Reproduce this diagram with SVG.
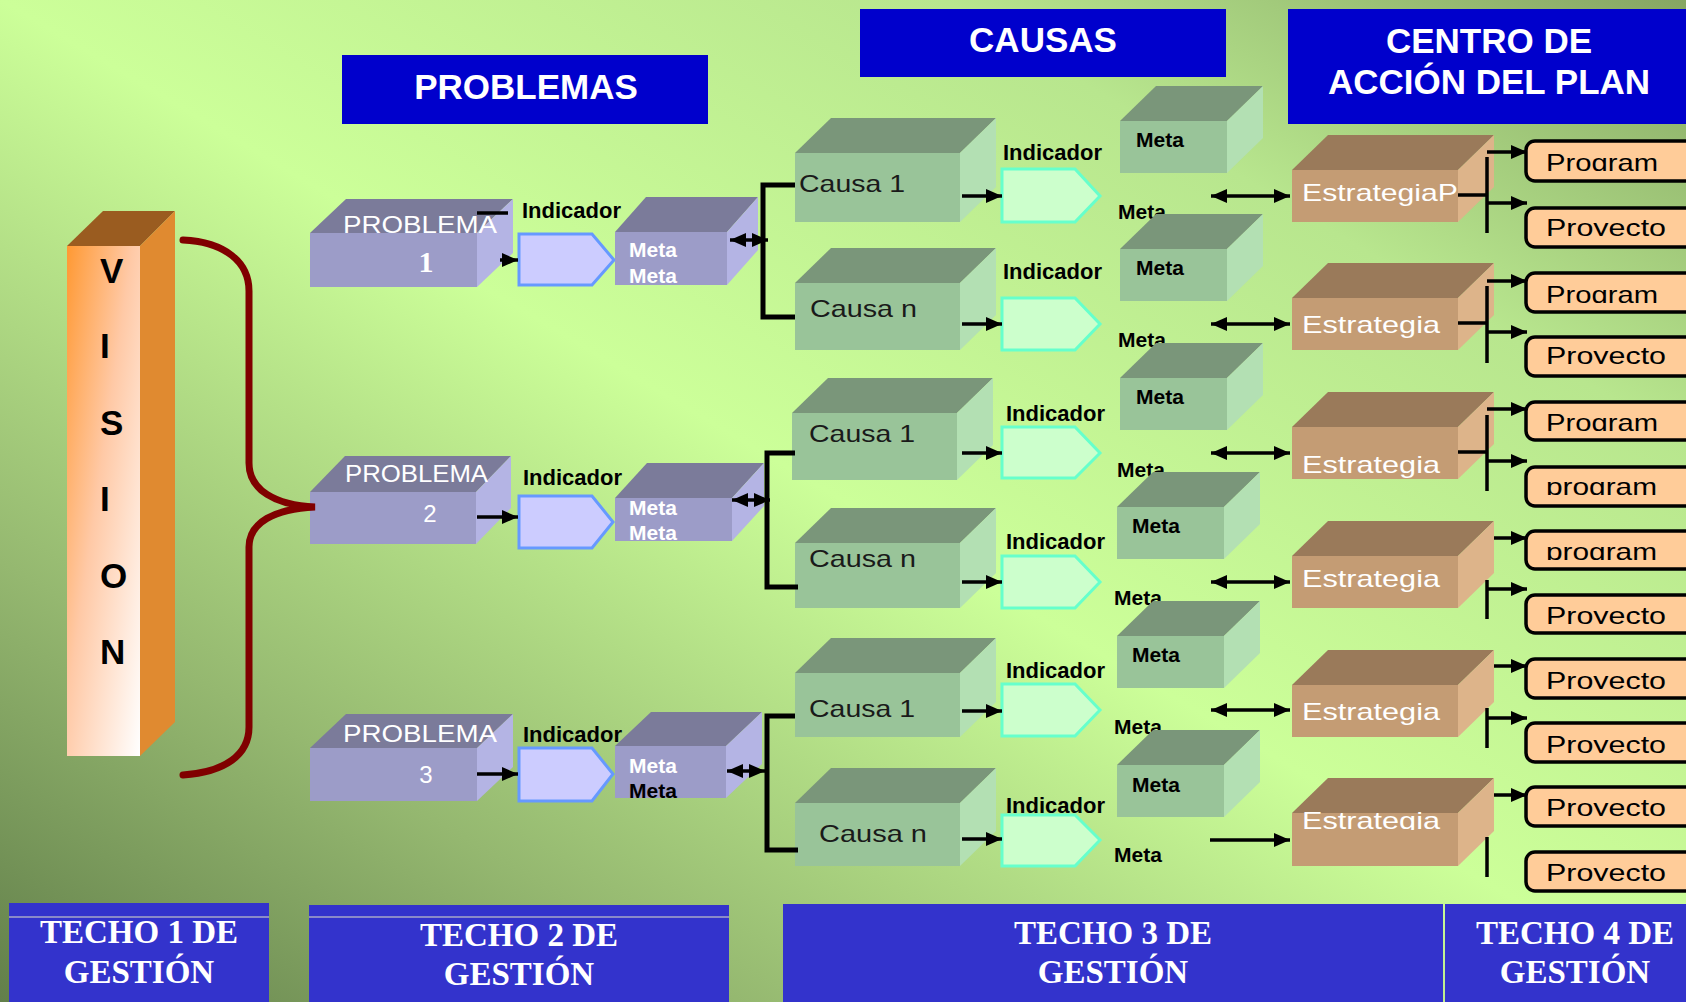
<svg xmlns="http://www.w3.org/2000/svg" width="1686" height="1002" viewBox="0 0 1686 1002">
<defs>
<linearGradient id="bg" x1="0" y1="1" x2="1" y2="0">
<stop offset="0" stop-color="#627f4a"/>
<stop offset="0.22" stop-color="#95b870"/>
<stop offset="0.5" stop-color="#ccff99"/>
<stop offset="0.78" stop-color="#b8e68e"/>
<stop offset="1" stop-color="#86a663"/>
</linearGradient>
<linearGradient id="vis" x1="0" y1="0" x2="1" y2="1">
<stop offset="0" stop-color="#ff9933"/>
<stop offset="0.45" stop-color="#ffc9a6"/>
<stop offset="1" stop-color="#ffffff"/>
</linearGradient>
<marker id="ah" markerWidth="16" markerHeight="14" refX="16" refY="7" orient="auto-start-reverse" markerUnits="userSpaceOnUse">
<path d="M0,0 L16,7 L0,14 z" fill="#000"/>
</marker>
<clipPath id="c1" clipPathUnits="userSpaceOnUse"><rect x="1526" y="141" width="200" height="30"/></clipPath>
<clipPath id="c2" clipPathUnits="userSpaceOnUse"><rect x="1526" y="208" width="200" height="28"/></clipPath>
<clipPath id="c3" clipPathUnits="userSpaceOnUse"><rect x="1526" y="273" width="200" height="30"/></clipPath>
<clipPath id="c4" clipPathUnits="userSpaceOnUse"><rect x="1526" y="337" width="200" height="27"/></clipPath>
<clipPath id="c5" clipPathUnits="userSpaceOnUse"><rect x="1526" y="402" width="200" height="29"/></clipPath>
<clipPath id="c6" clipPathUnits="userSpaceOnUse"><rect x="1526" y="467" width="200" height="28"/></clipPath>
<clipPath id="c7" clipPathUnits="userSpaceOnUse"><rect x="1526" y="531" width="200" height="29"/></clipPath>
<clipPath id="c8" clipPathUnits="userSpaceOnUse"><rect x="1526" y="595" width="200" height="29"/></clipPath>
<clipPath id="c9" clipPathUnits="userSpaceOnUse"><rect x="1526" y="659" width="200" height="30"/></clipPath>
<clipPath id="c10" clipPathUnits="userSpaceOnUse"><rect x="1526" y="723" width="200" height="30"/></clipPath>
<clipPath id="c11" clipPathUnits="userSpaceOnUse"><rect x="1526" y="787" width="200" height="29"/></clipPath>
<clipPath id="c12" clipPathUnits="userSpaceOnUse"><rect x="1526" y="852" width="200" height="29"/></clipPath>
<clipPath id="cs6" clipPathUnits="userSpaceOnUse"><rect x="1292" y="780" width="170" height="50"/></clipPath>
</defs>
<style>
.pf{fill:#9c9cc8}.pt{fill:#7b7b9a}.ps{fill:#b4b4e4}
.gf{fill:#99c499}.gt{fill:#7a967a}.gs{fill:#b3e0b3}
.tf{fill:#c49c74}.tt{fill:#9a7a5a}.ts{fill:#ddb48a}
.pind{fill:#ccccff;stroke:#6699ff;stroke-width:3}
.gind{fill:#ccffcc;stroke:#66ffcc;stroke-width:3}
.prog{fill:#ffcc99;stroke:#000;stroke-width:3.5}
.hdr{fill:#0000cc}.ftr{fill:#3333cc}
text{font-family:"Liberation Sans",Arial,sans-serif}
.ht{fill:#fff;font-weight:bold;font-size:35px;text-anchor:middle}
.ft{fill:#fff;font-weight:bold;font-size:33px;text-anchor:middle;font-family:"Liberation Serif","Times New Roman",serif}
.vt{fill:#000;font-weight:bold;font-size:35px}
.pl{fill:#fff;font-size:24px}
.bl{fill:#000;font-weight:bold;font-size:22px}
.mt{font-weight:bold;font-size:21px}
.ct{fill:#1a1a1a;font-size:24px}
.st{fill:#fff;font-size:24px}
.pt2{fill:#000;font-size:24px}
.ln{fill:none;stroke:#000;stroke-width:3.5}
.br{fill:none;stroke:#000;stroke-width:5}
.ar{fill:none;stroke:#000;stroke-width:3.5;marker-end:url(#ah)}
.da{fill:none;stroke:#000;stroke-width:3.5;marker-start:url(#ah);marker-end:url(#ah)}
</style>
<rect x="0" y="0" width="1686" height="1002" fill="url(#bg)"/>

<!-- headers -->
<g id="hdr-problemas"><rect class="hdr" x="342" y="55" width="366" height="69"/><text class="ht" x="526" y="99">PROBLEMAS</text></g>
<g id="hdr-causas"><rect class="hdr" x="860" y="9" width="366" height="68"/><text class="ht" x="1043" y="52">CAUSAS</text></g>
<g id="hdr-centro"><rect class="hdr" x="1288" y="9" width="398" height="115"/><text class="ht" x="1489" y="53">CENTRO DE</text><text class="ht" x="1489" y="94">ACCIÓN DEL PLAN</text></g>

<!-- vision -->
<g id="vision">
<polygon points="67,246 103,211 175,211 140,246" fill="#9a5c20"/>
<polygon points="140,246 175,211 175,722 140,756" fill="#e08a30"/>
<rect x="67" y="246" width="73" height="510" fill="url(#vis)"/>
<text class="vt" x="100" y="283">V</text>
<text class="vt" x="100" y="358">I</text>
<text class="vt" x="100" y="435">S</text>
<text class="vt" x="100" y="511">I</text>
<text class="vt" x="100" y="588">O</text>
<text class="vt" x="100" y="664">N</text>
</g>

<!-- problems -->
<g id="problema1">
<polygon class="pt" points="310,233 346,199 513,199 477,233"/>
<polygon class="ps" points="477,233 513,199 513,253 477,287"/>
<rect class="pf" x="310" y="233" width="167" height="54"/>
<text class="pl" x="343" y="233" textLength="154" lengthAdjust="spacingAndGlyphs">PROBLEMA</text>
<text x="426" y="272" fill="#fff" font-size="30" font-weight="bold" text-anchor="middle" style="font-family:'Liberation Serif',serif">1</text>
</g>
<g id="problema2">
<polygon class="pt" points="310,492 345,456 511,456 476,492"/>
<polygon class="ps" points="476,492 511,456 511,508 476,544"/>
<rect class="pf" x="310" y="492" width="166" height="52"/>
<text class="pl" x="345" y="482" textLength="143" lengthAdjust="spacingAndGlyphs">PROBLEMA</text>
<text class="pl" x="430" y="522" font-size="27" text-anchor="middle">2</text>
</g>
<g id="problema3">
<polygon class="pt" points="310,748 346,714 513,714 477,748"/>
<polygon class="ps" points="477,748 513,714 513,767 477,801"/>
<rect class="pf" x="310" y="748" width="167" height="53"/>
<text class="pl" x="343" y="742" textLength="154" lengthAdjust="spacingAndGlyphs">PROBLEMA</text>
<text class="pl" x="426" y="783" font-size="27" text-anchor="middle">3</text>
</g>

<!-- problem indicators -->
<g id="p-ind1"><polygon class="pind" points="519,234 592,234 614,260 592,285 519,285"/><text class="bl" x="522" y="218">Indicador</text></g>
<g id="p-ind2"><polygon class="pind" points="519,496 592,496 613,522 592,548 519,548"/><text class="bl" x="523" y="485">Indicador</text></g>
<g id="p-ind3"><polygon class="pind" points="519,748 592,748 613,774 592,801 519,801"/><text class="bl" x="523" y="742">Indicador</text></g>

<!-- problem metas -->
<g id="p-meta1">
<polygon class="pt" points="615,232 646,197 758,197 727,232"/>
<polygon class="ps" points="727,232 758,197 758,250 727,285"/>
<rect class="pf" x="615" y="232" width="112" height="53"/>
<text class="mt" x="629" y="257" fill="#fff">Meta</text><text class="mt" x="629" y="283" fill="#fff">Meta</text>
</g>
<g id="p-meta2">
<polygon class="pt" points="615,498 647,463 764,463 732,498"/>
<polygon class="ps" points="732,498 764,463 764,506 732,541"/>
<rect class="pf" x="615" y="498" width="117" height="43"/>
<text class="mt" x="629" y="515" fill="#fff">Meta</text><text class="mt" x="629" y="540" fill="#fff">Meta</text>
</g>
<g id="p-meta3">
<polygon class="pt" points="615,746 651,712 762,712 726,746"/>
<polygon class="ps" points="726,746 762,712 762,764 726,798"/>
<rect class="pf" x="615" y="746" width="111" height="52"/>
<text class="mt" x="629" y="773" fill="#fff">Meta</text><text class="mt" x="629" y="798" fill="#000">Meta</text>
</g>

<!-- causas -->
<g id="causa1">
<polygon class="gt" points="795,153 831,118 996,118 960,153"/><polygon class="gs" points="960,153 996,118 996,187 960,222"/>
<rect class="gf" x="795" y="153" width="165" height="69"/>
<text class="ct" x="799" y="192" textLength="106" lengthAdjust="spacingAndGlyphs">Causa 1</text>
</g>
<g id="causa2">
<polygon class="gt" points="795,283 831,248 996,248 960,283"/><polygon class="gs" points="960,283 996,248 996,315 960,350"/>
<rect class="gf" x="795" y="283" width="165" height="67"/>
<text class="ct" x="810" y="317" textLength="107" lengthAdjust="spacingAndGlyphs">Causa n</text>
</g>
<g id="causa3">
<polygon class="gt" points="792,413 828,378 993,378 957,413"/><polygon class="gs" points="957,413 993,378 993,445 957,480"/>
<rect class="gf" x="792" y="413" width="165" height="67"/>
<text class="ct" x="809" y="442" textLength="106" lengthAdjust="spacingAndGlyphs">Causa 1</text>
</g>
<g id="causa4">
<polygon class="gt" points="795,543 831,508 996,508 960,543"/><polygon class="gs" points="960,543 996,508 996,573 960,608"/>
<rect class="gf" x="795" y="543" width="165" height="65"/>
<text class="ct" x="809" y="567" textLength="107" lengthAdjust="spacingAndGlyphs">Causa n</text>
</g>
<g id="causa5">
<polygon class="gt" points="795,673 831,638 996,638 960,673"/><polygon class="gs" points="960,673 996,638 996,702 960,737"/>
<rect class="gf" x="795" y="673" width="165" height="64"/>
<text class="ct" x="809" y="717" textLength="106" lengthAdjust="spacingAndGlyphs">Causa 1</text>
</g>
<g id="causa6">
<polygon class="gt" points="795,803 831,768 996,768 960,803"/><polygon class="gs" points="960,803 996,768 996,831 960,866"/>
<rect class="gf" x="795" y="803" width="165" height="63"/>
<text class="ct" x="819" y="842" textLength="108" lengthAdjust="spacingAndGlyphs">Causa n</text>
</g>

<!-- causa indicators -->
<g id="c-ind1"><polygon class="gind" points="1002,169 1075,169 1100,196 1075,222 1002,222"/><text class="bl" x="1003" y="160">Indicador</text></g>
<g id="c-ind2"><polygon class="gind" points="1002,298 1075,298 1100,324 1075,350 1002,350"/><text class="bl" x="1003" y="279">Indicador</text></g>
<g id="c-ind3"><polygon class="gind" points="1002,427 1075,427 1100,453 1075,478 1002,478"/><text class="bl" x="1006" y="421">Indicador</text></g>
<g id="c-ind4"><polygon class="gind" points="1002,556 1075,556 1100,582 1075,608 1002,608"/><text class="bl" x="1006" y="549">Indicador</text></g>
<g id="c-ind5"><polygon class="gind" points="1002,684 1075,684 1100,710 1075,736 1002,736"/><text class="bl" x="1006" y="678">Indicador</text></g>
<g id="c-ind6"><polygon class="gind" points="1002,815 1075,815 1100,840 1075,866 1002,866"/><text class="bl" x="1006" y="813">Indicador</text></g>

<!-- causa metas -->
<g id="c-meta1">
<polygon class="gt" points="1120,121 1156,86 1263,86 1227,121"/><polygon class="gs" points="1227,121 1263,86 1263,138 1227,173"/>
<rect class="gf" x="1120" y="121" width="107" height="52"/>
<text class="mt" x="1136" y="147" fill="#000">Meta</text>
<text class="mt" x="1118" y="219" fill="#000">Meta</text>
</g>
<g id="c-meta2">
<polygon class="gt" points="1120,249 1156,214 1263,214 1227,249"/><polygon class="gs" points="1227,249 1263,214 1263,266 1227,301"/>
<rect class="gf" x="1120" y="249" width="107" height="52"/>
<text class="mt" x="1136" y="275" fill="#000">Meta</text>
<text class="mt" x="1118" y="347" fill="#000">Meta</text>
</g>
<g id="c-meta3">
<polygon class="gt" points="1120,378 1156,343 1263,343 1227,378"/><polygon class="gs" points="1227,378 1263,343 1263,395 1227,430"/>
<rect class="gf" x="1120" y="378" width="107" height="52"/>
<text class="mt" x="1136" y="404" fill="#000">Meta</text>
<text class="mt" x="1117" y="477" fill="#000">Meta</text>
</g>
<g id="c-meta4">
<polygon class="gt" points="1117,507 1153,472 1260,472 1224,507"/><polygon class="gs" points="1224,507 1260,472 1260,524 1224,559"/>
<rect class="gf" x="1117" y="507" width="107" height="52"/>
<text class="mt" x="1132" y="533" fill="#000">Meta</text>
<text class="mt" x="1114" y="605" fill="#000">Meta</text>
</g>
<g id="c-meta5">
<polygon class="gt" points="1117,636 1153,601 1260,601 1224,636"/><polygon class="gs" points="1224,636 1260,601 1260,653 1224,688"/>
<rect class="gf" x="1117" y="636" width="107" height="52"/>
<text class="mt" x="1132" y="662" fill="#000">Meta</text>
<text class="mt" x="1114" y="734" fill="#000">Meta</text>
</g>
<g id="c-meta6">
<polygon class="gt" points="1117,765 1153,730 1260,730 1224,765"/><polygon class="gs" points="1224,765 1260,730 1260,782 1224,817"/>
<rect class="gf" x="1117" y="765" width="107" height="52"/>
<text class="mt" x="1132" y="792" fill="#000">Meta</text>
<text class="mt" x="1114" y="862" fill="#000">Meta</text>
</g>

<!-- estrategias -->
<g id="estrategia1">
<polygon class="tt" points="1292,170 1328,135 1494,135 1458,170"/><polygon class="ts" points="1458,170 1494,135 1494,187 1458,222"/>
<rect class="tf" x="1292" y="170" width="166" height="52"/>
<text class="st" x="1302" y="201" textLength="156" lengthAdjust="spacingAndGlyphs">EstrategiaP</text>
</g>
<g id="estrategia2">
<polygon class="tt" points="1292,298 1328,263 1494,263 1458,298"/><polygon class="ts" points="1458,298 1494,263 1494,315 1458,350"/>
<rect class="tf" x="1292" y="298" width="166" height="52"/>
<text class="st" x="1302" y="333" textLength="138" lengthAdjust="spacingAndGlyphs">Estrategia</text>
</g>
<g id="estrategia3">
<polygon class="tt" points="1292,427 1328,392 1494,392 1458,427"/><polygon class="ts" points="1458,427 1494,392 1494,444 1458,479"/>
<rect class="tf" x="1292" y="427" width="166" height="52"/>
<text class="st" x="1302" y="473" textLength="138" lengthAdjust="spacingAndGlyphs">Estrategia</text>
</g>
<g id="estrategia4">
<polygon class="tt" points="1292,556 1328,521 1494,521 1458,556"/><polygon class="ts" points="1458,556 1494,521 1494,573 1458,608"/>
<rect class="tf" x="1292" y="556" width="166" height="52"/>
<text class="st" x="1302" y="587" textLength="138" lengthAdjust="spacingAndGlyphs">Estrategia</text>
</g>
<g id="estrategia5">
<polygon class="tt" points="1292,685 1328,650 1494,650 1458,685"/><polygon class="ts" points="1458,685 1494,650 1494,702 1458,737"/>
<rect class="tf" x="1292" y="685" width="166" height="52"/>
<text class="st" x="1302" y="720" textLength="138" lengthAdjust="spacingAndGlyphs">Estrategia</text>
</g>
<g id="estrategia6">
<polygon class="tt" points="1292,813 1328,778 1494,778 1458,813"/><polygon class="ts" points="1458,813 1494,778 1494,831 1458,866"/>
<rect class="tf" x="1292" y="813" width="166" height="53"/>
<text class="st" x="1302" y="829" textLength="138" lengthAdjust="spacingAndGlyphs" clip-path="url(#cs6)">Estrategia</text>
</g>

<!-- programs / projects -->
<g id="prog1"><rect class="prog" x="1526" y="141" width="200" height="40" rx="9"/><text class="pt2" x="1546" y="171" textLength="112" lengthAdjust="spacingAndGlyphs" clip-path="url(#c1)">Program</text></g>
<g id="prog2"><rect class="prog" x="1526" y="208" width="200" height="39" rx="9"/><text class="pt2" x="1546" y="236" textLength="120" lengthAdjust="spacingAndGlyphs" clip-path="url(#c2)">Proyecto</text></g>
<g id="prog3"><rect class="prog" x="1526" y="273" width="200" height="39" rx="9"/><text class="pt2" x="1546" y="303" textLength="112" lengthAdjust="spacingAndGlyphs" clip-path="url(#c3)">Program</text></g>
<g id="prog4"><rect class="prog" x="1526" y="337" width="200" height="39" rx="9"/><text class="pt2" x="1546" y="364" textLength="120" lengthAdjust="spacingAndGlyphs" clip-path="url(#c4)">Proyecto</text></g>
<g id="prog5"><rect class="prog" x="1526" y="402" width="200" height="38" rx="9"/><text class="pt2" x="1546" y="431" textLength="112" lengthAdjust="spacingAndGlyphs" clip-path="url(#c5)">Program</text></g>
<g id="prog6"><rect class="prog" x="1526" y="467" width="200" height="39" rx="9"/><text class="pt2" x="1546" y="495" textLength="111" lengthAdjust="spacingAndGlyphs" clip-path="url(#c6)">program</text></g>
<g id="prog7"><rect class="prog" x="1526" y="531" width="200" height="38" rx="9"/><text class="pt2" x="1546" y="560" textLength="111" lengthAdjust="spacingAndGlyphs" clip-path="url(#c7)">program</text></g>
<g id="prog8"><rect class="prog" x="1526" y="595" width="200" height="38" rx="9"/><text class="pt2" x="1546" y="624" textLength="120" lengthAdjust="spacingAndGlyphs" clip-path="url(#c8)">Proyecto</text></g>
<g id="prog9"><rect class="prog" x="1526" y="659" width="200" height="39" rx="9"/><text class="pt2" x="1546" y="689" textLength="120" lengthAdjust="spacingAndGlyphs" clip-path="url(#c9)">Proyecto</text></g>
<g id="prog10"><rect class="prog" x="1526" y="723" width="200" height="39" rx="9"/><text class="pt2" x="1546" y="753" textLength="120" lengthAdjust="spacingAndGlyphs" clip-path="url(#c10)">Proyecto</text></g>
<g id="prog11"><rect class="prog" x="1526" y="787" width="200" height="39" rx="9"/><text class="pt2" x="1546" y="816" textLength="120" lengthAdjust="spacingAndGlyphs" clip-path="url(#c11)">Proyecto</text></g>
<g id="prog12"><rect class="prog" x="1526" y="852" width="200" height="39" rx="9"/><text class="pt2" x="1546" y="881" textLength="120" lengthAdjust="spacingAndGlyphs" clip-path="url(#c12)">Proyecto</text></g>

<!-- footers -->
<g id="techo1"><rect class="ftr" x="9" y="903" width="260" height="99"/><line x1="9" y1="917" x2="269" y2="917" stroke="#a9a9c9" stroke-width="1.5"/><text class="ft" x="139" y="943">TECHO 1 DE</text><text class="ft" x="139" y="983">GESTIÓN</text></g>
<g id="techo2"><rect class="ftr" x="309" y="905" width="420" height="97"/><line x1="309" y1="917" x2="729" y2="917" stroke="#a9a9c9" stroke-width="1.5"/><text class="ft" x="519" y="946">TECHO 2 DE</text><text class="ft" x="519" y="985">GESTIÓN</text></g>
<g id="techo3"><rect class="ftr" x="783" y="904" width="660" height="98"/><text class="ft" x="1113" y="944">TECHO 3 DE</text><text class="ft" x="1113" y="983">GESTIÓN</text></g>
<g id="techo4"><rect class="ftr" x="1445" y="904" width="241" height="98"/><text class="ft" x="1575" y="944">TECHO 4 DE</text><text class="ft" x="1575" y="983">GESTIÓN</text></g>

<!-- connectors -->
<g id="connectors">
<path d="M183,240 C225,242 249,262 249,291 L249,463 C249,490 275,505 315,507 C275,509 249,522 249,547 L249,727 C249,755 225,772 183,775" fill="none" stroke="#800000" stroke-width="7" stroke-linecap="round"/>
<line class="ln" x1="477" y1="213" x2="508" y2="213"/>
<line class="ar" x1="500" y1="260" x2="518" y2="260"/>
<line class="ar" x1="477" y1="517" x2="518" y2="517"/>
<line class="ar" x1="477" y1="774" x2="518" y2="774"/>
<line class="da" x1="730" y1="240" x2="768" y2="240"/>
<line class="da" x1="732" y1="500" x2="770" y2="500"/>
<line class="da" x1="727" y1="771" x2="765" y2="771"/>
<path class="br" d="M795,185 H763 V317 H795"/>
<path class="br" d="M795,453 H767 V587 H798"/>
<path class="br" d="M795,716 H767 V850 H798"/>
<line class="ar" x1="962" y1="196" x2="1002" y2="196"/>
<line class="ar" x1="962" y1="324" x2="1002" y2="324"/>
<line class="ar" x1="962" y1="453" x2="1002" y2="453"/>
<line class="ar" x1="962" y1="582" x2="1002" y2="582"/>
<line class="ar" x1="962" y1="711" x2="1002" y2="711"/>
<line class="ar" x1="962" y1="839" x2="1002" y2="839"/>
<line class="da" x1="1211" y1="196" x2="1290" y2="196"/>
<line class="da" x1="1211" y1="324" x2="1290" y2="324"/>
<line class="da" x1="1211" y1="453" x2="1290" y2="453"/>
<line class="da" x1="1211" y1="582" x2="1290" y2="582"/>
<line class="da" x1="1211" y1="710" x2="1290" y2="710"/>
<line class="ar" x1="1210" y1="840" x2="1290" y2="840"/>
<path class="ln" d="M1458,195 H1487 M1487,157 V233"/>
<line class="ar" x1="1487" y1="152" x2="1527" y2="152"/>
<line class="ar" x1="1487" y1="203" x2="1527" y2="203"/>
<path class="ln" d="M1458,323 H1487 M1487,286 V363"/>
<line class="ar" x1="1487" y1="281" x2="1527" y2="281"/>
<line class="ar" x1="1487" y1="332" x2="1527" y2="332"/>
<path class="ln" d="M1458,452 H1487 M1487,415 V491"/>
<line class="ar" x1="1487" y1="409" x2="1527" y2="409"/>
<line class="ar" x1="1487" y1="461" x2="1527" y2="461"/>
<path class="ln" d="M1487,580 V619"/>
<line class="ar" x1="1494" y1="538" x2="1527" y2="538"/>
<line class="ar" x1="1487" y1="589" x2="1527" y2="589"/>
<path class="ln" d="M1487,708 V748"/>
<line class="ar" x1="1494" y1="666" x2="1527" y2="666"/>
<line class="ar" x1="1487" y1="718" x2="1527" y2="718"/>
<path class="ln" d="M1487,837 V877"/>
<line class="ar" x1="1494" y1="795" x2="1527" y2="795"/>
</g>
</svg>
